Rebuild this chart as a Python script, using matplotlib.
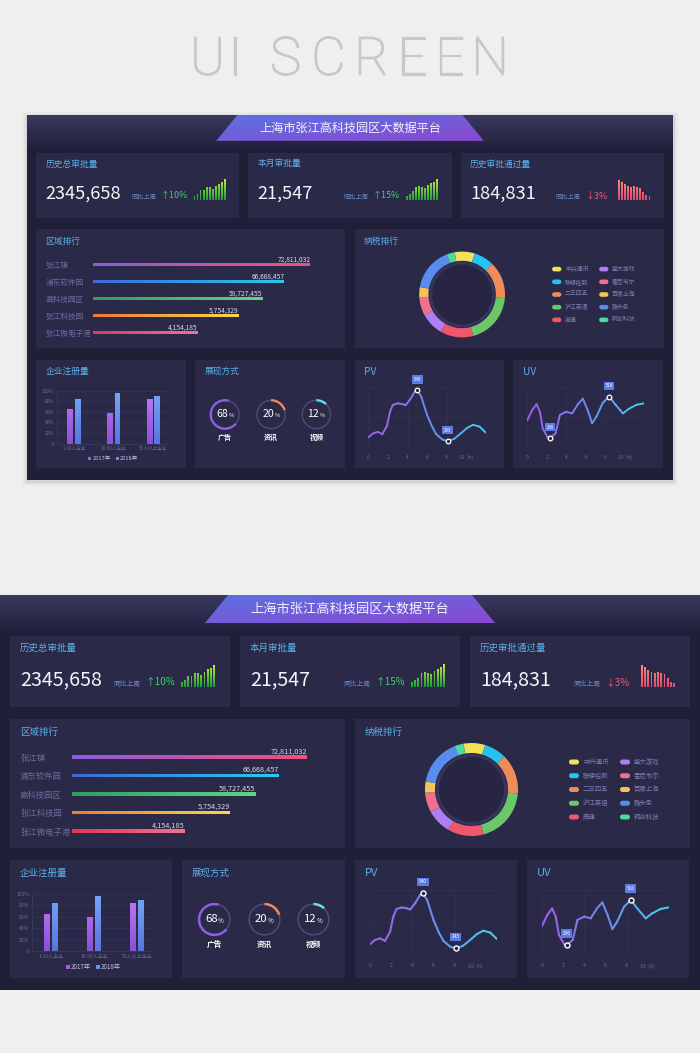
import numpy as np
import matplotlib.pyplot as plt
import matplotlib.patheffects as pe
from matplotlib.patches import Rectangle, Polygon, FancyBboxPatch, Circle
from matplotlib.collections import LineCollection
from matplotlib.colors import LinearSegmentedColormap
from matplotlib.path import Path

plt.rcParams['font.family'] = ['Noto Sans CJK SC', 'DejaVu Sans']

W, H = 700, 1053
BG = '#201f38'
CARD = '#2a2947'
TITLE_C = '#5cb0e8'
MUTED = '#6d6b9e'

# ---- data ----
title = '上海市张江高科技园区大数据平台'

kpi_labels = ['历史总审批量', '本月审批量', '历史审批通过量']
kpi_values = ['2345,658', '21,547', '184,831']
kpi_change = ['↑10%', '↑15%', '↓3%']
kpi_bars1 = [14, 20, 32, 32, 42, 40, 36, 44, 52, 56, 66]
kpi_bars2 = [14, 20, 28, 40, 44, 42, 38, 48, 54, 58, 68]
kpi_bars3 = [64, 58, 51, 44, 41, 44, 41, 38, 26, 16, 12]

region_names = ['张江镇', '浦东软件园', '高科技园区', '张江科技园', '张江微电子港']
region_values = ['72,811,032', '66,668,457', '58,727,455', '5,754,329', '4,154,185']
region_pct = [100, 88, 78, 67, 48]

tax_names = ['中兴通讯', '联想控股', '二三四五', '沪江英语', '高通',
             '盛大游戏', '霍尼韦尔', '百度上海', '路头条', '韩创科技']
tax_share = [27, 28, 50, 70, 45, 31, 25, 14, 59, 11]
tax_colors = ['#f5e05a', '#25c3ef', '#f08c5a', '#6cc76a', '#f0566e',
              '#b07ef0', '#f0708e', '#f5c35a', '#5a8cf0', '#4fd8a0']

reg_groups = ['1-10人企业', '10-50人企业', '50人以上企业']
reg_2017 = [65, 59, 84]
reg_2018 = [84, 97, 90]

show_names = ['广告', '资讯', '视频']
show_pct = [68, 20, 12]

pv_hours = [0, 0.47, 0.95, 1.42, 1.9, 2.2, 2.5, 3.0, 3.5, 3.8, 4.26, 4.73, 5.0,
            5.4, 6.0, 6.5, 6.94, 7.57, 8.1, 8.8, 9.46, 10.1, 10.7, 11.36, 12]
pv_values = [265, 288, 297, 283, 333, 414, 455, 464, 459, 453, 486, 531, 540,
             504, 396, 329, 283, 252, 243, 257, 288, 320, 338, 328, 293]
pv_marks = [(5.0, 540), (8.1, 243)]

uv_hours = [0, 0.5, 0.95, 1.3, 1.6, 2.1, 2.35, 2.9, 3.35, 4.0, 4.6, 5.2, 5.7,
            6.2, 6.65, 7.1, 7.75, 8.4, 9.0, 9.8, 10.4, 11.2, 12]
uv_values = [355, 424, 466, 414, 299, 240, 236, 267, 393, 414, 403, 466, 503,
             424, 336, 382, 476, 518, 466, 403, 434, 462, 472]
uv_marks = [(2.35, 236), (8.4, 518)]


def cmap2(*cols):
    return LinearSegmentedColormap.from_list('', list(cols))


fig = plt.figure(figsize=(W / 100, H / 100), dpi=100)
fig.patch.set_facecolor('#efefef')
base = fig.add_axes([0, 0, 1, 1])
base.set_xlim(0, W)
base.set_ylim(H, 0)
base.axis('off')


def vgrad(ax, x0, x1, ytop, ybot, ctop, cbot, z):
    arr = np.linspace(0, 1, 128).reshape(-1, 1)
    ax.imshow(arr, cmap=cmap2(ctop, cbot), extent=[x0, x1, ybot, ytop],
              origin='upper', aspect='auto', zorder=z)


def grad_bars(ax, bars, c_bot, c_top, y0, y1):
    # one vertical gradient for the whole axes, clipped to the bar shapes
    xl = ax.get_xlim()
    paths = [b.get_path().transformed(b.get_patch_transform()) for b in bars]
    clip = Path.make_compound_path(*paths)
    im = ax.imshow(np.linspace(0, 1, 128).reshape(-1, 1), cmap=cmap2(c_bot, c_top),
                   extent=[xl[0], xl[1], y0, y1], origin='lower', aspect='auto',
                   zorder=3, interpolation='bilinear')
    im.set_clip_path(clip, ax.transData)


def hgrad_bars(ax, bars, cols):
    for b, (c0, c1) in zip(bars, cols):
        x, y = b.get_xy()
        im = ax.imshow(np.linspace(0, 1, 128).reshape(1, -1), cmap=cmap2(c0, c1),
                       extent=[x, x + b.get_width(), y, y + b.get_height()],
                       aspect='auto', zorder=3)
        im.set_clip_path(b)


# "UI SCREEN" heading, spaced letters
for ch, cx in zip('UISCREEN', [207.5, 235, 285.5, 328.5, 371.5, 412, 449.5, 490]):
    base.text(cx, 60, ch, fontsize=38, color='#c8c8c8', ha='center', va='center',
              family=['Roboto', 'DejaVu Sans'], fontweight='light',
              path_effects=[pe.withStroke(linewidth=0.9, foreground='#c8c8c8')])


def dashboard(ox, oy, s, shadow=False):
    X = lambda x: ox + s * x
    Y = lambda y: oy + s * y

    def sub(x0, y0, x1, y1):
        a = fig.add_axes([X(x0) / W, 1 - Y(y1) / H, (x1 - x0) * s / W, (y1 - y0) * s / H])
        a.set_facecolor('none')
        for sp in a.spines.values():
            sp.set_visible(False)
        return a

    def txt(x, y, t, size, color, **kw):
        base.text(X(x), Y(y), t, fontsize=size * s, color=color, va='center', zorder=10, **kw)

    def card(x0, y0, x1, y1):
        base.add_patch(Rectangle((X(x0), Y(y0)), (x1 - x0) * s, (y1 - y0) * s,
                                 fc=CARD, ec='none', zorder=2))

    if shadow:
        for d, al in [(5, 0.025), (3, 0.035), (1.5, 0.05)]:
            base.add_patch(Rectangle((X(0) - d, Y(0) - d + 1.5), 700 * s + 2 * d, 395 * s + 2 * d,
                                     fc='black', alpha=al, ec='none', zorder=0.5))
    base.add_patch(Rectangle((X(0), Y(0)), 700 * s, 395 * s, fc=BG, ec='none', zorder=1))
    vgrad(base, X(0), X(700), Y(0), Y(40), '#3a385f', BG, 1.5)

    # title trapezoid
    trap = Polygon([(X(228), Y(0)), (X(472), Y(0)), (X(495), Y(28)), (X(205), Y(28))],
                   closed=True, fc='none', ec='none', zorder=3)
    base.add_patch(trap)
    g = np.add.outer(np.linspace(0, 1, 32), np.linspace(0, 1, 128)) / 2
    im = base.imshow(g, cmap=cmap2('#5a72e2', '#8a48cf'), extent=[X(205), X(495), Y(28), Y(0)],
                     origin='upper', aspect='auto', zorder=3)
    im.set_clip_path(trap)
    txt(350, 14, title, 9.5, '#f2f0ff', ha='center')

    # KPI cards
    bars_all = [kpi_bars1, kpi_bars2, kpi_bars3]
    ch_cols = ['#3fd46a', '#3fd46a', '#ee5a78']
    grads = [('#1e9e3c', '#c6f23a'), ('#1e9e3c', '#c6f23a'), ('#e04a6e', '#ff927c')]
    for i, cx in enumerate([10, 240, 470]):
        card(cx, 41, cx + 220, 112)
        txt(cx + 10, 53, kpi_labels[i], 6.8, TITLE_C)
        txt(cx + 10, 85, kpi_values[i], 14.2, '#f4f4fa')
        txt(cx + 103, 88.5, '同比上周', 4.9, '#6a8ac4')
        txt(cx + 135, 87.5, kpi_change[i], 7, ch_cols[i])
        a = sub(cx + 170, 69, cx + 206, 92)
        a.set_xlim(-0.5, 10.5)
        a.set_ylim(0, 68)
        bars = a.bar(range(11), bars_all[i], width=0.55, color='none')
        grad_bars(a, bars, *grads[i], 0, 68)
        a.set_xlim(-0.5, 10.5)
        a.set_ylim(0, 68)
        a.set_xticks([])
        a.set_yticks([])

    # region ranking
    card(10, 124, 345, 253)
    txt(20, 137, '区域排行', 6.8, TITLE_C)
    a = sub(72, 150, 307, 248)
    bars = a.barh(range(5), region_pct, height=0.18, color='none')
    hgrad_bars(a, bars, [('#8e5ce0', '#f0507a'), ('#3c6ad8', '#28c8f0'), ('#2e9e62', '#5fd67e'),
                         ('#f07a32', '#f8d848'), ('#d83c58', '#f57090')])
    for i, v in enumerate(region_values):
        a.annotate(v, (region_pct[i], i), xytext=(0, 4 * s), textcoords='offset points',
                   ha='right', va='center', fontsize=5.2 * s, color='#d8d8ee')
    a.set_xlim(0, 100)
    a.set_ylim(4.65, -0.65)
    a.set_xticks([])
    a.set_yticks(range(5), region_names)
    a.tick_params(axis='y', length=0, labelsize=6 * s, labelcolor=MUTED, pad=52 * s * 0.72)
    for t in a.get_yticklabels():
        t.set_ha('left')

    # tax ranking donut
    card(355, 124, 690, 253)
    txt(365, 137, '纳税排行', 6.8, TITLE_C)
    a = sub(425, 148, 518, 241)
    a.pie(tax_share, colors=tax_colors, startangle=100, counterclock=False, radius=1,
          wedgeprops=dict(width=0.215, edgecolor='none'))
    a.add_patch(Circle((0, 0), 0.76, fc='#37355e', ec='none'))
    a.add_patch(Circle((0, 0), 0.70, fc='#272541', ec='none'))
    a.set_xlim(-1, 1)
    a.set_ylim(-1, 1)
    for i, (n, c) in enumerate(zip(tax_names, tax_colors)):
        col, row = divmod(i, 5)
        px = 569 + 51 * col
        py = 167 + 13.75 * row
        base.add_patch(FancyBboxPatch((X(px), Y(py) - 2.5 * s), 10 * s, 5 * s,
                                      boxstyle='round,pad=0,rounding_size=%f' % (2.5 * s),
                                      fc=c, ec='none', zorder=10))
        txt(px + 14, py, n, 4.6, '#7f7db2')

    # company registrations
    card(10, 265, 172, 383)
    txt(20, 278, '企业注册量', 6.8, TITLE_C)
    a = sub(32, 299, 153, 356)
    a.set_xlim(-0.44, 2.37)
    a.set_ylim(0, 100)
    xs = np.arange(3)
    b1 = a.bar(xs - 0.095, reg_2017, width=0.14, color='none', zorder=3)
    b2 = a.bar(xs + 0.095, reg_2018, width=0.14, color='none', zorder=3)
    grad_bars(a, b1, '#8a4fd8', '#c47cf2', 0, 100)
    grad_bars(a, b2, '#5a74de', '#76a6f8', 0, 100)
    a.set_xlim(-0.44, 2.37)
    a.set_ylim(0, 100)
    a.set_yticks([0, 20, 40, 60, 80, 100], ['0', '20%', '40%', '60%', '80%', '100%'])
    a.set_xticks(xs, reg_groups)
    a.tick_params(length=0, labelsize=3.6 * s, labelcolor=MUTED, pad=2 * s)
    a.grid(axis='y', color='#363460', lw=0.5 * s)
    a.set_axisbelow(True)
    for k in ('left', 'bottom'):
        a.spines[k].set_visible(True)
        a.spines[k].set_color('#3e3c66')
        a.spines[k].set_linewidth(0.5 * s)
    for lx, lab, c in [(68, '2017年', '#a060e8'), (98, '2018年', '#6a90f0')]:
        base.add_patch(Rectangle((X(lx - 1.7), Y(372 - 1.7)), 3.4 * s, 3.4 * s, fc=c, ec='none', zorder=10))
        txt(lx + 3, 372, lab, 4.5, '#c4c2e4')

    # display mode gauges
    card(182, 265, 345, 383)
    txt(192, 278, '展现方式', 6.8, TITLE_C)
    g_cols = ['#8f5ee6', '#f08a5a', '#5ee0f0']
    g_start = [75, 90, 90]
    g_ccw = [True, False, False]
    for i, cx in enumerate([214.5, 264.5, 313.5]):
        a = sub(cx - 17, 307.5, cx + 17, 341.5)
        a.pie([100], colors=['#4f4d74'], radius=0.965, wedgeprops=dict(width=0.09, edgecolor='none'))
        a.pie([show_pct[i], 100 - show_pct[i]], colors=[g_cols[i], 'none'], startangle=g_start[i],
              counterclock=g_ccw[i], radius=1, wedgeprops=dict(width=0.15, edgecolor='none'))
        a.set_xlim(-1.02, 1.02)
        a.set_ylim(-1.02, 1.02)
        txt(cx + 3.2, 324.5, str(show_pct[i]), 8.2, '#ffffff', ha='right')
        txt(cx + 3.6, 326, '%', 4.5, '#ffffff', ha='left')
        txt(cx, 349, show_names[i], 5.5, '#ffffff', ha='center', fontweight='bold')

    # PV / UV lines
    lcmap = cmap2('#a25ce8', '#6a8cf0', '#3ed6e6')
    for cx, name, hrs, vals, ylim, marks in [
            (355, 'PV', pv_hours, pv_values, (207, 558), pv_marks),
            (527, 'UV', uv_hours, uv_values, (173, 581), uv_marks)]:
        card(cx, 265, cx + 162, 383)
        txt(cx + 10, 278, name, 8, TITLE_C)
        a = sub(cx + 15, 295, cx + 142, 360)
        for gx in (0, 4, 8, 12):
            a.axvline(gx, color='#33315a', lw=0.5 * s, zorder=1)
        for gy in (ylim[0], (ylim[0] + ylim[1]) / 2, ylim[1]):
            a.axhline(gy, color='#33315a', lw=0.5 * s, zorder=1)
        pts = np.column_stack([hrs, vals])
        segs = np.stack([pts[:-1], pts[1:]], axis=1)
        lc = LineCollection(segs, cmap=lcmap, linewidth=1.5 * s, capstyle='round',
                            joinstyle='round', zorder=3)
        lc.set_array(np.asarray(hrs[:-1], dtype=float))
        lc.set_clim(0, 12)
        a.add_collection(lc)
        for mh, mv in marks:
            a.plot([mh], [mv], 'o', ms=3.6 * s, mfc='#2a2848', mec='white', mew=1 * s, zorder=5)
            a.annotate(str(mv), (mh, mv), xytext=(0, 6.5 * s), textcoords='offset points',
                       ha='center', va='bottom', fontsize=3.4 * s, color='white', zorder=6,
                       bbox=dict(boxstyle='square,pad=0.35', fc='#5b7be8', ec='none'))
        a.set_xlim(0, 12)
        a.set_ylim(*ylim)
        a.set_yticks([])
        a.set_xticks([0, 2, 4, 6, 8, 10], ['0', '2', '4', '6', '8', '10  (h)'])
        a.tick_params(axis='x', length=0, labelsize=3.8 * s, labelcolor=MUTED, pad=5.8 * s)


dashboard(27, 115, 646 / 700, shadow=True)
dashboard(0, 595, 1.0)

fig.savefig('out.png', dpi=100, facecolor=fig.get_facecolor())
